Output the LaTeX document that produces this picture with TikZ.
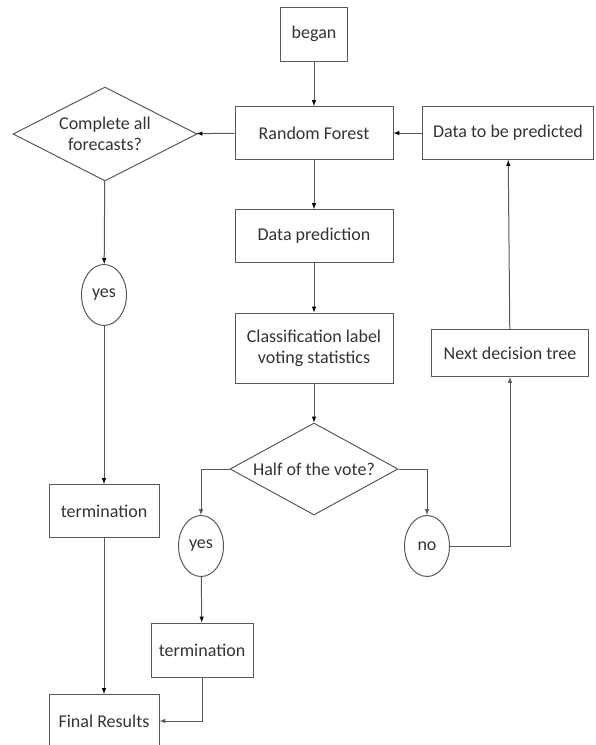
\documentclass[tikz,border=0pt]{standalone}
\usepackage{fontspec}
\setmainfont{Carlito}
\usetikzlibrary{arrows,shapes.geometric}

\begin{document}
\begin{tikzpicture}[x=1pt, y=-1pt, >=latex,
  every node/.style={text=black!80, font=\fontsize{18}{21}\selectfont},
  stepbox/.style={draw=black!65, line width=1pt, minimum height=53pt, align=center},
  query/.style={draw=black!65, line width=1pt, diamond, aspect=2, inner sep=0pt, align=center},
  answer/.style={draw=black!65, line width=1pt, ellipse, inner sep=0pt, minimum width=45pt, minimum height=61pt}]
\useasboundingbox (0,0) rectangle (595,745);
\node[stepbox, minimum width=67pt, minimum height=54pt] (began) at (314,34) {began};
\node[stepbox, minimum width=158pt] (forest) at (314,133) {Random Forest};
\node[stepbox, minimum width=171pt] (data) at (508,133) {Data to be predicted};
\node[query, minimum width=184pt, minimum height=94pt] (done) at (105,134) {Complete all\\forecasts?};
\node[stepbox, minimum width=158pt] (pred) at (314,236) {Data prediction};
\node[answer] (yesa) at (104,295) {yes};
\node[stepbox, minimum width=158pt, minimum height=70pt] (vote) at (314,348) {Classification label\\voting statistics};
\node[stepbox, minimum width=157pt, minimum height=47pt] (tree) at (510,353) {Next decision tree};
\node[query, minimum width=168pt, minimum height=92pt, aspect=1.9] (half) at (314,469) {Half of the vote?};
\node[stepbox, minimum width=110pt] (terma) at (104,511) {termination};
\node[answer] (yesb) at (201,546) {yes};
\node[answer] (no) at (427,546) {no};
\node[stepbox, minimum width=102pt, minimum height=54pt] (termb) at (202,650) {termination};
\node[stepbox, minimum width=110pt] (final) at (104,721) {Final Results};
\path[->, draw=black!65, line width=1pt]
(began) edge (forest)
(data) edge (forest)
(forest) edge (done)
        edge (pred)
(pred) edge (vote)
(vote) edge (half)
(done) edge (yesa)
(yesa) edge (terma)
(terma) edge (final)
(yesb) edge (termb)
(tree) edge (data);
\draw[->, draw=black!65, line width=1pt] (half.west) -| (yesb.north);
\draw[->, draw=black!65, line width=1pt] (half.east) -| (no.north);
\draw[->, draw=black!65, line width=1pt] (no.east) -| (tree.south);
\draw[->, draw=black!65, line width=1pt] (termb.south) |- (final.east);
\end{tikzpicture}
\end{document}
